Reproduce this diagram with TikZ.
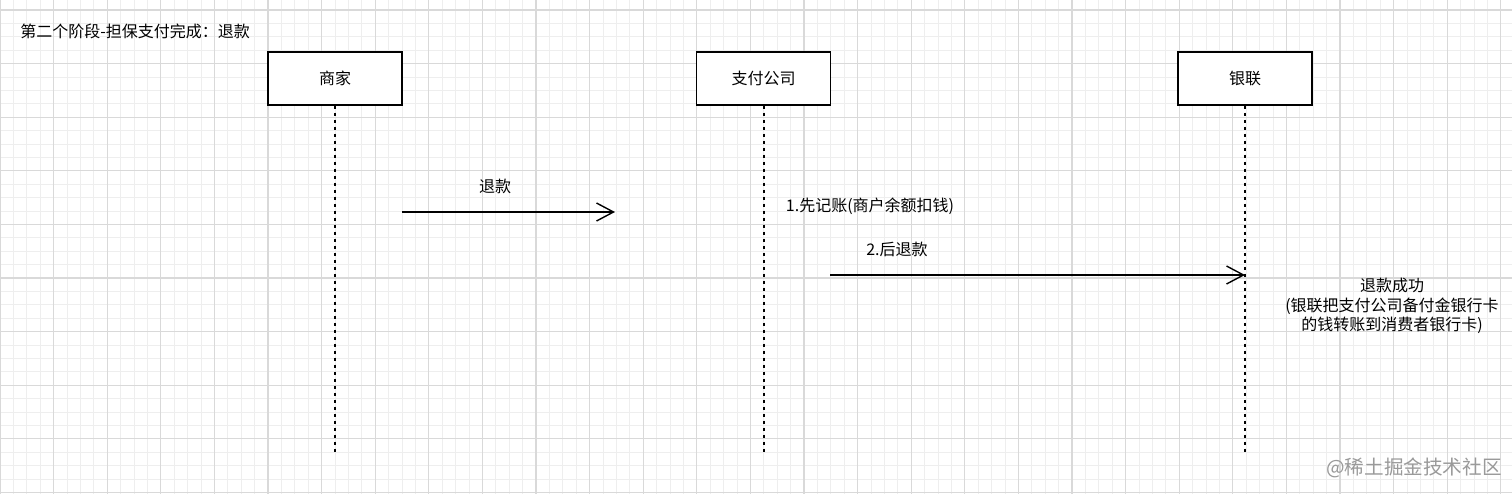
\documentclass[tikz,border=0pt]{standalone}
\usepackage{fontspec}
\newfontfamily\cjk{Noto Sans CJK SC}
\usepackage{tikz}
\usetikzlibrary{arrows.meta}
\definecolor{gridminor}{HTML}{EEEEEE}
\definecolor{gridmajor}{HTML}{D9D9D9}
\definecolor{wmgray}{HTML}{9A9A9A}

\begin{document}
\begin{tikzpicture}[x=0.5pt, y=-0.5pt,
  font=\cjk\fontsize{8}{9.7}\selectfont, >={Straight Barb[length=8.5pt,width=9pt]},
  gmin/.style={draw=gridminor, line width=0.5pt},
  gmaj/.style={draw=gridmajor, line width=0.6pt},
  actor/.style={draw, fill=white, line width=0.65pt, minimum width=67pt, minimum height=26.5pt, inner sep=0pt},
  life/.style={line width=1pt, dash pattern=on 1.5pt off 2pt},
  msg/.style={->, line width=0.7pt}]
\useasboundingbox (0,0) rectangle (1512,494);
\fill[white] (0,0) rectangle (1512,494);
\foreach \i in {0,...,112} \draw[gmin] ({\i*13.4},0) -- ({\i*13.4},494);
\foreach \j in {-1,...,36} \draw[gmin] (0,{10+\j*13.4}) -- (1512,{10+\j*13.4});
\foreach \i in {0,...,28} \draw[gmaj] ({\i*53.6},0) -- ({\i*53.6},494);
\foreach \j in {0,...,9} \draw[gmaj] (0,{10+\j*53.6}) -- (1512,{10+\j*53.6});
\node[anchor=west, inner sep=0pt] (title) at (20,31) {第二个阶段-担保支付完成：退款};
\node[actor] (shop) at (335,78.5) {商家};
\node[actor] (pay) at (763.5,78.5) {支付公司};
\node[actor] (union) at (1245,78.5) {银联};
\coordinate (shopEnd) at (335,452);
\coordinate (payEnd) at (763.5,452);
\coordinate (unionEnd) at (1245,452);
\draw[life] (shop) -- (shopEnd);
\draw[life] (pay) -- (payEnd);
\draw[life] (union) -- (unionEnd);
\coordinate (r1a) at (402,212);
\coordinate (r1b) at (615,212);
\draw[msg] (r1a) -- (r1b);
\node (r1lbl) at (495,186) {退款};
\node (book) at (870,206) {1.先记账(商户余额扣钱)};
\coordinate (r2a) at (830,275);
\coordinate (r2b) at (1245,275);
\draw[msg] (r2a) -- (r2b);
\node (r2lbl) at (897,249) {2.后退款};
\node[align=center] (done) at (1392,306) {退款成功\\(银联把支付公司备付金银行卡\\的钱转账到消费者银行卡)};
\node[text=wmgray, font=\cjk\fontsize{9.8}{12}\selectfont] (wm) at (1414,468) {@稀土掘金技术社区};
\end{tikzpicture}
\end{document}
